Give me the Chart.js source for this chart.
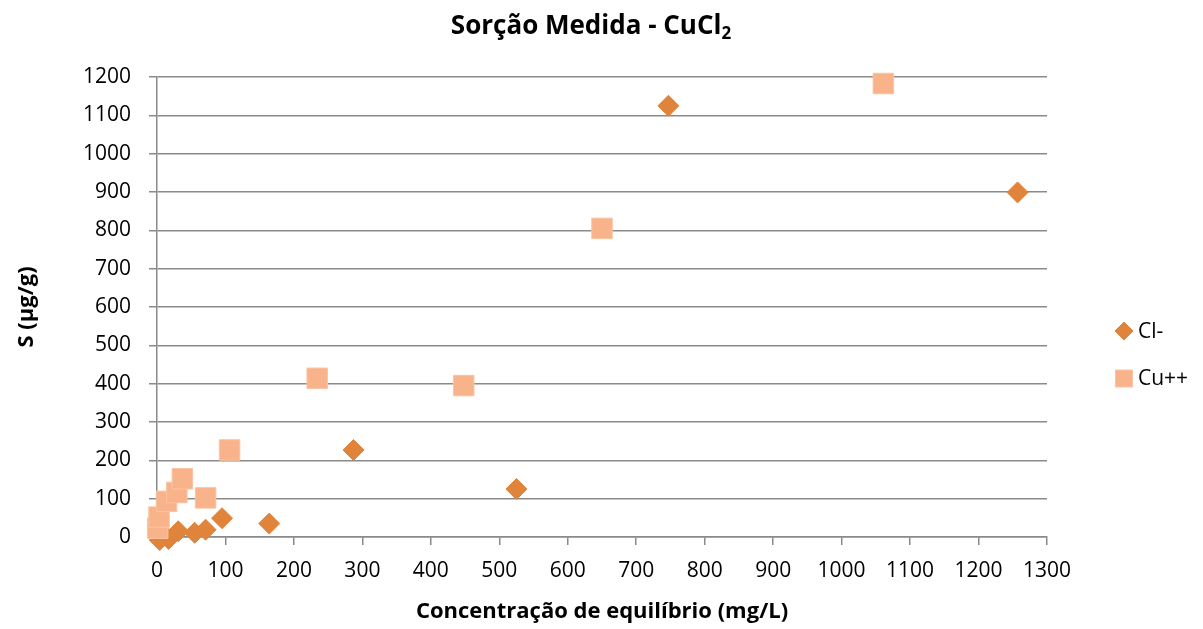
<!DOCTYPE html>
<html>
<head>
<meta charset="utf-8">
<script src="https://cdn.jsdelivr.net/npm/chart.js@4/dist/chart.umd.min.js"></script>
<style>
  body { margin: 0; background: #fff; }
  #wrap { position: relative; width: 1203px; height: 629px; }
  #title {
    position: absolute; left: 0; top: 11px; width: 1182px;
    text-align: center; font: bold 26px 'Open Sans', sans-serif; line-height: 26px; color: #000;
  }
  #title sub { font-size: 17px; vertical-align: -5px; line-height: 0; }
</style>
</head>
<body>
<div id="wrap">
  <canvas id="sorcao" width="1203" height="629"></canvas>
  <div id="title">Sorção Medida - CuCl<sub>2</sub></div>
</div>
<script>
// Cl- series
const clConc = [4, 17, 31, 55, 71, 95, 164, 287, 525, 747, 1257];
const clSorb = [-8, -5, 15, 11, 19, 49, 35, 227, 125, 1125, 899];

// Cu++ series
const cuConc = [1, 3, 14, 29, 37, 71, 106, 234, 448, 650, 1061];
const cuSorb = [23, 52, 93, 116, 152, 102, 227, 414, 395, 805, 1183];

const xMax = 1300;
const yMax = 1200;
const tickStep = 100;

const gridGray = '#8a8a8a';
const font = 'Open Sans';

function toPoints(xs, ys) {
  return xs.map((x, i) => ({ x: x, y: ys[i] }));
}

// plain numbers on the axes, no thousands separator
function plainTick(value) {
  return String(value);
}

// legend drawn at the right side, next to the plot
const sideLegend = {
  id: 'sideLegend',
  afterDraw(chart) {
    const ctx = chart.ctx;
    const area = chart.chartArea;
    const x0 = area.right + 77;
    const y0 = 331;
    const rowGap = 47.5;
    ctx.save();
    ctx.font = '21px ' + font;
    ctx.textBaseline = 'middle';
    ctx.textAlign = 'left';
    chart.data.datasets.forEach((ds, row) => {
      const y = y0 + row * rowGap;
      ctx.fillStyle = ds.backgroundColor;
      ctx.strokeStyle = ds.borderColor;
      ctx.lineWidth = 1;
      Chart.helpers.drawPoint(ctx, {
        pointStyle: ds.pointStyle,
        radius: ds.legendRadius,
        rotation: 0,
        borderWidth: 1
      }, x0, y);
      ctx.fillStyle = '#000';
      ctx.fillText(ds.label, x0 + 14, y + 1);
    });
    ctx.restore();
  }
};

const ctx = document.getElementById('sorcao').getContext('2d');
const chart = new Chart(ctx, {
  type: 'scatter',
  data: {
    datasets: [
      {
        label: 'Cl-',
        data: toPoints(clConc, clSorb),
        pointStyle: 'rectRot',
        pointRadius: 10.5,
        legendRadius: 9,
        backgroundColor: '#E0843C',
        borderColor: '#E0843C',
        borderWidth: 1,
        order: 2,
        clip: false
      },
      {
        label: 'Cu++',
        data: toPoints(cuConc, cuSorb),
        pointStyle: 'rect',
        pointRadius: 14.5,
        legendRadius: 12,
        backgroundColor: '#F9B38A',
        borderColor: '#FBC4A3',
        borderWidth: 1,
        order: 1,
        clip: false
      }
    ]
  },
  options: {
    responsive: false,
    animation: false,
    events: [],
    layout: { padding: { top: 77, right: 156, bottom: 0, left: 0 } },
    plugins: {
      legend: { display: false },
      title: { display: false },
      tooltip: { enabled: false }
    },
    scales: {
      x: {
        type: 'linear',
        min: 0,
        max: xMax,
        afterFit(scale) { scale.height = 92; },
        ticks: {
          stepSize: tickStep,
          padding: 13,
          color: '#000',
          font: { family: font, size: 21 },
          callback: plainTick
        },
        grid: {
          drawOnChartArea: false,
          drawTicks: true,
          tickLength: 8,
          color: gridGray,
          lineWidth: 1.5
        },
        border: { display: true, color: gridGray, width: 1.5 },
        title: {
          display: true,
          text: 'Concentração de equilíbrio (mg/L)',
          color: '#000',
          font: { family: font, size: 22, weight: 'bold' },
          padding: { top: 0, bottom: 4 }
        }
      },
      y: {
        type: 'linear',
        min: 0,
        max: yMax,
        afterFit(scale) { scale.width = 157; },
        ticks: {
          stepSize: tickStep,
          padding: 18,
          color: '#000',
          font: { family: font, size: 21 },
          callback: plainTick
        },
        grid: {
          drawTicks: true,
          tickLength: 8,
          color: gridGray,
          lineWidth: 1.5
        },
        border: { display: true, color: gridGray, width: 1.5 },
        title: {
          display: true,
          text: 'S (µg/g)',
          color: '#000',
          font: { family: font, size: 22, weight: 'bold' },
          padding: { top: 14, bottom: 0 }
        }
      }
    }
  },
  plugins: [sideLegend]
});
</script>
</body>
</html>
